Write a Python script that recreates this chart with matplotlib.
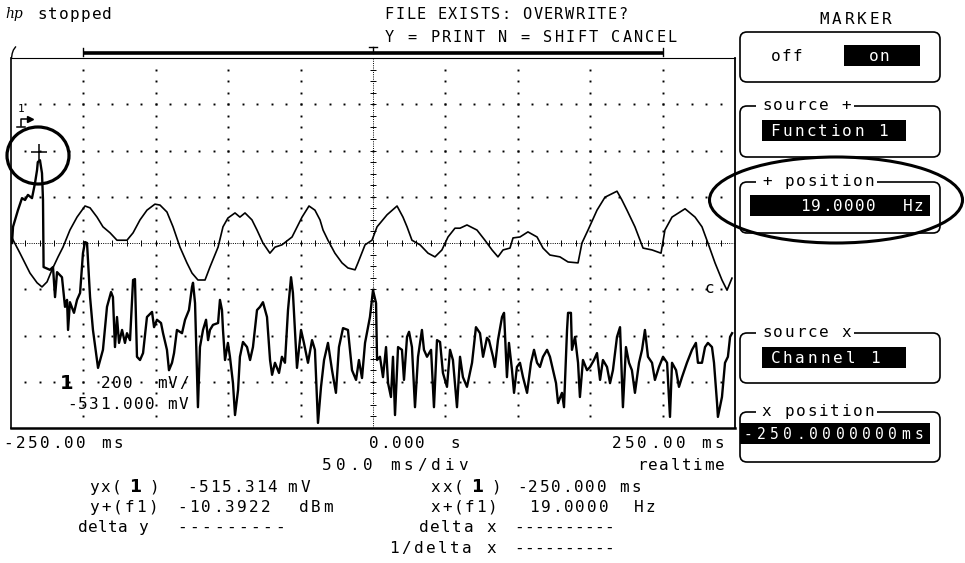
import numpy as np
import matplotlib
matplotlib.use("Agg")
import matplotlib.pyplot as plt
from matplotlib.patches import FancyBboxPatch, Ellipse, Rectangle
from matplotlib.transforms import blended_transform_factory

# screen: 500 ms across 10 divisions, 8 vertical divisions
# channel 1 trace (time ms, screen divisions)
ch1_t = [-249.3, -243.8, -236.9, -232.0, -228.6, -225.1, -221.7, -217.5, -214.1, -209.3,
         -204.4, -198.9, -195.4, -190.6, -186.5, -181.6, -176.8, -169.9, -165.7, -160.9,
         -156.1, -150.6, -147.1, -142.3, -138.1, -133.3, -128.5, -125.0, -120.9, -116.0,
         -112.6, -107.0, -103.6, -100.2, -95.3, -91.9, -88.4, -83.6, -80.1, -76.0,
         -71.2, -67.7, -62.9, -55.9, -49.0, -44.2, -40.1, -36.6, -34.5, -31.1,
         -26.3, -21.4, -17.3, -12.4, -10.4, -5.5, -0.7, 2.8, 9.7, 16.6,
         20.7, 23.5, 26.9, 32.5, 38.0, 42.8, 47.6, 51.8, 56.6, 60.1,
         64.9, 71.8, 77.3, 82.2, 86.3, 89.8, 94.6, 96.7, 101.5, 107.0,
         113.3, 117.4, 122.2, 129.1, 134.7, 141.6, 144.3, 148.5, 154.7, 160.2,
         168.5, 171.9, 175.4, 180.9, 186.5, 192.7, 198.9, 201.6, 206.5, 215.5,
         222.4, 227.2, 231.3, 236.2, 241.0, 244.5, 247.9]
ch1_div = [0.11, -0.22, -0.65, -0.86, -0.95, -0.84, -0.58, -0.30, -0.09, 0.28,
           0.56, 0.80, 0.76, 0.56, 0.35, 0.22, 0.06, 0.06, 0.22, 0.50,
           0.71, 0.84, 0.82, 0.67, 0.35, -0.09, -0.43, -0.65, -0.80, -0.80,
           -0.52, -0.09, 0.35, 0.54, 0.65, 0.56, 0.65, 0.50, 0.28, 0.00,
           -0.22, -0.09, -0.04, 0.13, 0.56, 0.80, 0.71, 0.50, 0.28, 0.06,
           -0.22, -0.43, -0.54, -0.58, -0.43, -0.04, 0.06, 0.35, 0.61, 0.80,
           0.56, 0.35, 0.06, -0.04, -0.22, -0.30, -0.15, 0.13, 0.32, 0.32,
           0.39, 0.28, 0.06, -0.15, -0.30, -0.15, -0.11, 0.11, 0.13, 0.24,
           0.13, -0.11, -0.26, -0.30, -0.41, -0.43, 0.00, 0.28, 0.71, 0.99,
           1.12, 0.93, 0.71, 0.35, -0.11, -0.15, -0.22, 0.28, 0.56, 0.74,
           0.56, 0.35, 0.00, -0.43, -0.80, -1.02, -0.76]

# function 1 trace
f1_t = [-249.3, -248.6, -245.2, -242.4, -240.3, -238.3, -235.5, -234.8, -233.4, -232.0,
        -231.5, -230.0, -228.6, -227.9, -227.5, -223.1, -221.0, -219.6, -218.2, -214.8,
        -212.7, -211.3, -210.6, -209.3, -206.5, -204.4, -202.3, -200.3, -198.9, -197.5,
        -195.4, -193.4, -189.9, -186.5, -183.7, -180.9, -179.6, -178.2, -176.8, -175.4,
        -173.3, -171.3, -169.9, -167.8, -165.7, -164.4, -163.0, -160.9, -158.8, -156.1,
        -152.6, -151.2, -149.2, -146.4, -145.0, -142.3, -140.9, -138.8, -137.4, -135.4,
        -131.9, -129.8, -127.1, -125.0, -124.3, -122.9, -120.9, -120.2, -119.5, -117.4,
        -115.3, -113.9, -112.6, -110.5, -107.0, -105.7, -104.3, -103.6, -102.2, -100.2,
        -98.8, -96.7, -95.3, -93.2, -91.9, -89.8, -87.0, -84.9, -82.9, -80.1,
        -78.0, -76.0, -73.2, -71.1, -69.7, -67.7, -64.9, -62.9, -60.8, -58.7,
        -56.6, -55.3, -53.9, -52.5, -49.7, -47.7, -44.9, -42.1, -40.1, -38.0,
        -35.9, -33.8, -31.1, -28.3, -25.6, -23.5, -20.7, -17.3, -14.5, -11.7,
        -9.7, -7.6, -5.5, -2.1, 0.0, 2.1, 2.8, 4.8, 6.9, 9.0,
        10.4, 12.4, 13.8, 15.2, 17.3, 20.0, 21.4, 23.5, 24.9, 26.9,
        29.0, 31.1, 33.8, 35.2, 37.3, 40.1, 42.1, 44.2, 46.3, 48.3,
        51.1, 53.2, 55.2, 58.0, 60.1, 62.1, 64.9, 68.4, 71.1, 73.9,
        76.0, 78.7, 80.1, 82.9, 84.2, 86.3, 89.1, 90.5, 92.5, 93.9,
        96.0, 97.4, 99.4, 101.5, 103.6, 106.4, 109.1, 111.2, 113.3, 115.3,
        117.4, 120.2, 122.2, 124.3, 126.4, 127.8, 130.5, 131.9, 134.0, 134.7,
        136.7, 137.4, 139.5, 141.6, 142.9, 145.0, 147.8, 149.9, 152.6, 154.7,
        156.8, 158.8, 161.6, 163.7, 165.7, 168.5, 170.6, 172.6, 174.7, 176.8,
        178.8, 180.9, 183.7, 185.8, 187.8, 189.9, 192.7, 194.7, 197.5, 200.3,
        203.1, 205.1, 206.5, 209.3, 211.3, 213.4, 216.8, 220.3, 223.0, 224.4,
        227.2, 229.3, 231.3, 234.1, 235.5, 237.6, 238.2, 241.0, 243.1, 245.1,
        246.6, 248.0]
f1_div = [0.00, 0.35, 0.71, 0.97, 0.93, 1.04, 0.97, 1.08, 1.30, 1.58,
          1.75, 1.79, 1.51, 0.93, -0.52, -0.58, -0.52, -1.17, -0.63, -0.74,
          -1.38, -1.23, -1.88, -1.28, -1.51, -1.23, -1.08, -0.22, 0.02, 0.00,
          -1.17, -1.88, -2.70, -2.31, -1.38, -1.06, -1.17, -2.25, -1.60, -2.16,
          -1.88, -2.16, -1.95, -2.10, -0.80, -0.78, -2.46, -2.53, -2.38, -1.60,
          -1.49, -1.82, -1.66, -1.73, -1.95, -2.31, -2.75, -2.59, -2.38, -1.88,
          -1.95, -1.66, -1.45, -0.95, -0.86, -1.30, -3.55, -2.90, -2.25, -1.88,
          -1.66, -2.10, -1.88, -1.77, -1.73, -1.23, -1.45, -1.88, -2.53, -2.16,
          -2.46, -3.03, -3.72, -3.18, -2.46, -2.14, -2.25, -2.53, -2.25, -1.45,
          -1.38, -1.28, -1.60, -2.53, -2.85, -2.59, -2.81, -2.46, -2.59, -1.45,
          -0.74, -1.08, -1.88, -2.70, -1.88, -2.16, -2.59, -2.10, -2.31, -3.89,
          -3.11, -2.53, -2.16, -2.75, -3.24, -2.25, -1.84, -1.88, -2.75, -2.96,
          -2.53, -2.92, -2.16, -1.60, -1.02, -1.30, -2.53, -2.46, -2.90, -2.25,
          -3.03, -3.33, -2.46, -3.72, -2.25, -2.31, -2.96, -2.03, -1.92, -2.25,
          -3.55, -2.46, -1.88, -2.31, -2.46, -2.31, -3.55, -2.10, -2.14, -2.81,
          -3.11, -2.31, -2.53, -3.55, -2.46, -2.90, -3.11, -2.59, -1.82, -1.95,
          -2.46, -2.05, -2.10, -2.46, -2.68, -2.10, -1.60, -1.51, -2.90, -2.16,
          -2.75, -3.24, -2.68, -2.59, -2.90, -3.24, -2.59, -2.31, -2.59, -2.68,
          -2.46, -2.31, -2.46, -2.75, -3.03, -3.46, -3.24, -3.55, -1.88, -1.51,
          -1.51, -2.31, -2.03, -2.59, -3.33, -2.53, -2.75, -2.68, -2.53, -2.38,
          -2.96, -2.53, -2.68, -3.03, -2.75, -2.03, -1.82, -3.55, -2.25, -2.59,
          -2.75, -3.24, -2.59, -2.31, -1.88, -2.46, -2.59, -2.96, -2.68, -2.46,
          -2.59, -3.76, -2.59, -2.75, -3.11, -2.90, -2.59, -2.31, -2.16, -2.59,
          -2.59, -2.25, -2.16, -2.25, -2.59, -3.46, -3.76, -3.33, -2.59, -2.46,
          -2.03, -1.95]

marker_t = -231.0
marker_div = 1.97

FONT = "DejaVu Sans Mono"
FS = 11.5

fig = plt.figure(figsize=(9.65, 5.63), dpi=100)
ui = fig.add_axes([0, 0, 1, 1])
ui.set_xlim(0, 965)
ui.set_ylim(563, 0)
ui.axis("off")

ax = fig.add_axes([11 / 965, 1 - 428 / 563, 724 / 965, 370 / 563])
ax.set_xlim(-250, 250)
ax.set_ylim(-4, 4)
ax.set_xticks([])
ax.set_yticks([])
ax.patch.set_alpha(0)
for side, lw in [("left", 1.2), ("right", 1.3), ("top", 0.8), ("bottom", 1.8)]:
    ax.spines[side].set_linewidth(lw)


def hp(x, y, s, pitch=11.3, size=FS, color="black", weight="normal", z=5):
    # fixed pitch text like the scope's character grid
    for i, ch in enumerate(s):
        if ch != " ":
            ui.text(x + (i + 0.5) * pitch, y, ch, ha="center", va="baseline",
                    fontsize=size, color=color, family=FONT, fontweight=weight,
                    zorder=z)


# graticule dots
minor_div = np.arange(-3.75, 4, 0.25)
minor_t = np.arange(-240, 250, 10)
for t in [-200, -150, -100, -50, 50, 100, 150, 200]:
    ax.plot(np.full(len(minor_div), t), minor_div, "s", ms=1.4, mew=0, color="k")
for d in [-3, -2, -1, 1, 2, 3]:
    ax.plot(minor_t, np.full(len(minor_t), d), "s", ms=1.4, mew=0, color="k")
ax.axvline(0, color="k", lw=0.7, ls=(0, (1, 1.3)))
ax.axhline(0, color="k", lw=0.7, ls=(0, (1, 1.3)))
ax.plot(np.zeros(len(minor_div)), minor_div, "_", ms=4, mew=0.7, color="k")
ax.plot(minor_t, np.zeros(len(minor_t)), "|", ms=4, mew=0.7, color="k")

# traces
ax.plot(ch1_t, ch1_div, color="k", lw=1.2)
ax.plot(f1_t, f1_div, color="k", lw=1.7)
ax.plot([marker_t], [marker_div], "+", ms=11, mew=1.1, color="k")

# memory bar above the graticule
tr = blended_transform_factory(ax.transData, ax.transAxes)
ax.plot([-200, 200], [1.0135, 1.0135], transform=tr, lw=2.6, color="k",
        clip_on=False, solid_capstyle="butt")
for t in [-200, 200]:
    ax.plot([t, t], [1.006, 1.027], transform=tr, lw=1.0, color="k", clip_on=False)
ax.plot([-3, 3], [1.030, 1.030], transform=tr, lw=1.0, color="k", clip_on=False)
ax.plot([0, 0], [1.030, 1.0135], transform=tr, lw=1.0, color="k", clip_on=False)
ui.plot([11.5, 12.2, 13.4, 15.5], [58, 53.5, 50, 47], color="k", lw=1)

# header
ui.text(5, 18, "hp", fontsize=10, style="italic", family="DejaVu Serif")
hp(37, 19, "stopped", pitch=10.8)
hp(384, 19, "FILE EXISTS: OVERWRITE?", pitch=10.6, size=11)
hp(384, 42, "Y = PRINT N = SHIFT CANCEL", pitch=11.3, size=11)

# channel annotations inside the graticule
ui.text(21, 112, "1", fontsize=8, family=FONT, ha="center")
ui.plot([21, 21, 30], [126, 119, 119], color="k", lw=1.1)
ui.plot([30], [119], marker=">", ms=4, color="k")
ui.plot([17, 25], [126.5, 126.5], color="k", lw=1.1)
ui.add_patch(Ellipse((38, 155.5), 62, 57, fill=False, lw=2.3, color="k"))
ui.text(67, 389, "1", fontsize=14, fontweight="bold", family="DejaVu Sans", ha="center")
hp(100, 388, "200  mV/", pitch=11.2)
hp(66, 409, "-531.000 mV", pitch=11.2)
ui.text(709, 293, "c", fontsize=FS, family=FONT, ha="center")

# time axis labels
hp(2, 448, "-250.00 ms", pitch=12.2)
hp(368, 448, "0.000  s", pitch=11.6)
hp(610, 448, "250.00 ms", pitch=12.8)
hp(320, 470, "50.0 ms/div", pitch=13.6)
hp(636, 470, "realtime", pitch=11.2)

# marker readouts
rows = [492, 512, 532, 553]
hp(88, rows[0], "yx(", pitch=11.3)
ui.text(135, rows[0], "1", fontsize=12.5, fontweight="bold", family="DejaVu Sans", ha="center")
hp(148, rows[0], ")", pitch=11.3)
hp(186, rows[0], "-515.314", pitch=11.5)
hp(285, rows[0], "mV", pitch=13.5)
hp(88, rows[1], "y+(f1)", pitch=11.8)
hp(176, rows[1], "-10.3922", pitch=12.0)
hp(298, rows[1], "dBm", pitch=12.0)
hp(78, rows[2], "delta y", pitch=10.0)
hp(176, rows[2], "---------", pitch=12.2)
hp(430, rows[0], "xx(", pitch=11.3)
ui.text(477, rows[0], "1", fontsize=12.5, fontweight="bold", family="DejaVu Sans", ha="center")
hp(490, rows[0], ")", pitch=11.3)
hp(516, rows[0], "-250.000 ms", pitch=11.4)
hp(430, rows[1], "x+(f1)", pitch=11.3)
hp(528, rows[1], "19.0000  Hz", pitch=11.6)
hp(418, rows[2], "delta x", pitch=11.2)
hp(514, rows[2], "----------", pitch=10.0)
hp(388, rows[3], "1/delta x", pitch=12.2)
hp(514, rows[3], "----------", pitch=10.0)

# softkey panel
hp(818, 24, "MARKER", pitch=12.5)


def softkey(y0, y1, title=None):
    ui.add_patch(FancyBboxPatch((740, y0), 200, y1 - y0,
                                boxstyle="round,pad=0,rounding_size=7",
                                fill=False, lw=1.2, ec="k", zorder=2))
    if title:
        ui.add_patch(Rectangle((756, y0 - 3), len(title) * 11.4 + 7, 6,
                               fc="white", ec="none", zorder=3))
        hp(761, y0 + 4, title, pitch=11.4)


def field(x0, x1, y0, y1):
    ui.add_patch(Rectangle((x0, y0), x1 - x0, y1 - y0, fc="k", ec="none", zorder=3))


softkey(32, 82)
hp(770, 61, "off", pitch=11.0)
field(844, 920, 45, 66)
hp(868, 61, "on", pitch=11.0, color="white")

softkey(106, 157, "source +")
field(762, 906, 120, 141)
hp(769, 136, "Function 1", pitch=12.0, color="white")

softkey(182, 233, "+ position")
field(750, 930, 195, 216)
hp(799, 211, "19.0000", pitch=11.0, color="white")
hp(902, 211, "Hz", pitch=11.0, color="white")

softkey(333, 383, "source x")
field(762, 906, 347, 368)
hp(769, 363, "Channel 1", pitch=12.5, color="white")

softkey(412, 462, "x position")
field(740, 930, 423, 444)
hp(741, 439, "-250.0000000ms", pitch=13.2, size=10.5, color="white")

ui.add_patch(Ellipse((836, 200), 253, 86, fill=False, lw=2.2, color="k", zorder=6))

fig.savefig("out.png", dpi=100)
